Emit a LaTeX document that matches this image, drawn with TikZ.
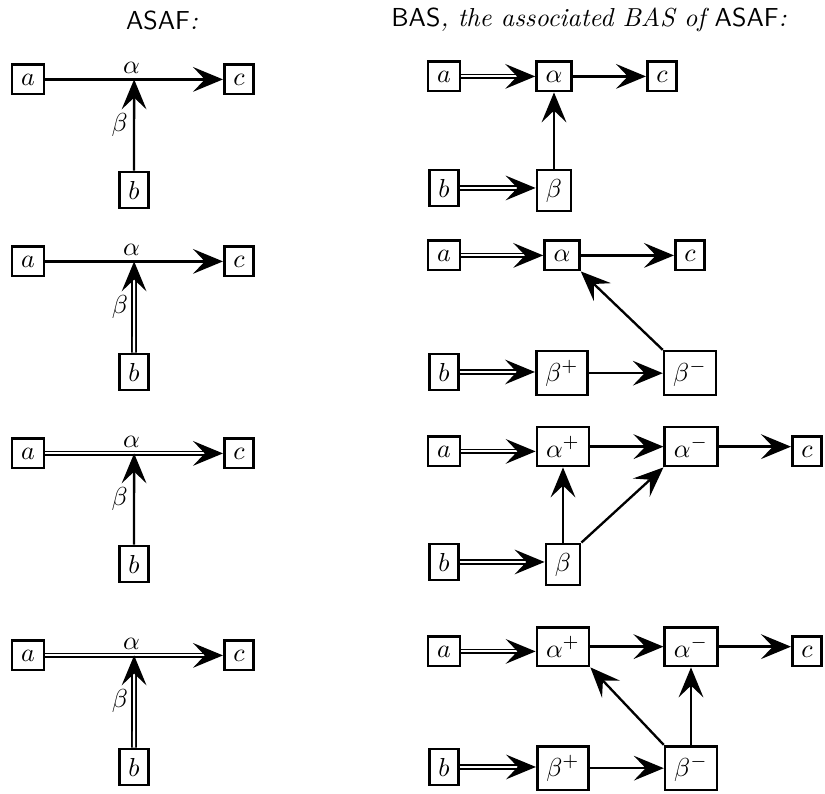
\documentclass[tikz,border=0pt]{standalone}
\usepackage{amsmath}
\usepackage{amssymb}
\usepackage{tikz}
\usetikzlibrary{arrows.meta,calc}

\tikzset{
  box/.style={draw, line width=1pt, inner sep=3.5pt, anchor=base},
  tip/.style={-{Stealth[length=11.5pt, width=9.5pt, inset=4.5pt]}},
  arr/.style={tip, line width=0.9pt},
  dblarr/.style={tip, double, line width=0.7pt, double distance=0.8pt},
  lbl/.style={inner sep=2pt}
}

\begin{document}
\begin{tikzpicture}[x=0.3846pt, y=-0.3846pt]
		\useasboundingbox (0,0) rectangle (825,794);
		% titles
		\node (t1) at (162,20) {\itshape\textsf{\upshape ASAF}:};
		\node (t2) at (589,20) {\itshape\textsf{\upshape BAS}, the associated BAS of \textsf{\upshape ASAF}:};

		% ASAF, row 1
		\node[box] (a1) at (28,85) {$a$};
		\node[box] (c1) at (239,85) {$c$};
		\node[box] (b1) at (134,199) {$b$};
		\coordinate (j1) at ($(a1.east)!0.5!(c1.west)$);
		\draw[arr] (a1) -- (c1);
		\node[lbl, above, xshift=-1pt] at (j1) {$\alpha$};
		\draw[arr] (b1) -- node[lbl, left]{$\beta$} (j1);

		% ASAF, row 2
		\node[box] (a2) at (28,267) {$a$};
		\node[box] (c2) at (239,267) {$c$};
		\node[box] (b2) at (134,381) {$b$};
		\coordinate (j2) at ($(a2.east)!0.5!(c2.west)$);
		\draw[arr] (a2) -- (c2);
		\node[lbl, above, xshift=-1pt] at (j2) {$\alpha$};
		\draw[dblarr] (b2) -- node[lbl, left]{$\beta$} (j2);

		% ASAF, row 3
		\node[box] (a3) at (28,459) {$a$};
		\node[box] (c3) at (239,459) {$c$};
		\node[box] (b3) at (134,573) {$b$};
		\coordinate (j3) at ($(a3.east)!0.5!(c3.west)$);
		\draw[dblarr] (a3) -- (c3);
		\node[lbl, above, xshift=-1pt] at (j3) {$\alpha$};
		\draw[arr] (b3) -- node[lbl, left]{$\beta$} (j3);

		% ASAF, row 4
		\node[box] (a4) at (28,661) {$a$};
		\node[box] (c4) at (239,661) {$c$};
		\node[box] (b4) at (134,776) {$b$};
		\coordinate (j4) at ($(a4.east)!0.5!(c4.west)$);
		\draw[dblarr] (a4) -- (c4);
		\node[lbl, above, xshift=-1pt] at (j4) {$\alpha$};
		\draw[dblarr] (b4) -- node[lbl, left]{$\beta$} (j4);

		% BAS, row 1
		\node[box] (ra1) at (444,82) {$a$};
		\node[box] (al1) at (554,82) {$\alpha$};
		\node[box] (rc1) at (662,82) {$c$};
		\node[box] (rb1) at (444,197) {$b$};
		\node[box] (be1) at (554,197) {$\beta$};
		\draw[dblarr] (ra1) -- (al1);
		\draw[arr] (al1) -- (rc1);
		\draw[dblarr] (rb1.east) -- (rb1.east -| be1.west);
		\draw[arr] (be1) -- (al1);

		% BAS, row 2
		\node[box] (ra2) at (444,261) {$a$};
		\node[box] (al2) at (562,261) {$\alpha$};
		\node[box] (rc2) at (690,261) {$c$};
		\node[box] (rb2) at (444,381) {$b$};
		\node[box] (bp2) at (562,381) {$\beta^+$};
		\node[box] (bm2) at (690,381) {$\beta^-$};
		\draw[dblarr] (ra2) -- (al2);
		\draw[arr] (al2) -- (rc2);
		\draw[dblarr] (rb2.east) -- (rb2.east -| bp2.west);
		\draw[arr] (bp2) -- (bm2);
		\draw[arr] (bm2.north west) -- (al2.south east);

		% BAS, row 3
		\node[box] (ra3) at (444,457) {$a$};
		\node[box] (ap3) at (563,457) {$\alpha^+$};
		\node[box] (am3) at (691,457) {$\alpha^-$};
		\node[box] (rc3) at (807,457) {$c$};
		\node[box] (rb3) at (444,571) {$b$};
		\node[box] (be3) at (563,571) {$\beta$};
		\draw[dblarr] (ra3.east) -- (ra3.east -| ap3.west);
		\draw[arr] (ap3) -- (am3);
		\draw[arr] (am3.east) -- (am3.east -| rc3.west);
		\draw[dblarr] (rb3.east) -- (rb3.east -| be3.west);
		\draw[arr] (be3) -- (ap3);
		\draw[arr] (be3.north east) -- (am3.south west);

		% BAS, row 4
		\node[box] (ra4) at (444,657) {$a$};
		\node[box] (ap4) at (563,657) {$\alpha^+$};
		\node[box] (am4) at (691,657) {$\alpha^-$};
		\node[box] (rc4) at (807,657) {$c$};
		\node[box] (rb4) at (444,776) {$b$};
		\node[box] (bp4) at (563,776) {$\beta^+$};
		\node[box] (bm4) at (691,776) {$\beta^-$};
		\draw[dblarr] (ra4.east) -- (ra4.east -| ap4.west);
		\draw[arr] (ap4) -- (am4);
		\draw[arr] (am4.east) -- (am4.east -| rc4.west);
		\draw[dblarr] (rb4.east) -- (rb4.east -| bp4.west);
		\draw[arr] (bp4) -- (bm4);
		\draw[arr] (bm4.north west) -- (ap4.south east);
		\draw[arr] (bm4) -- (am4);
		\end{tikzpicture}
\end{document}
